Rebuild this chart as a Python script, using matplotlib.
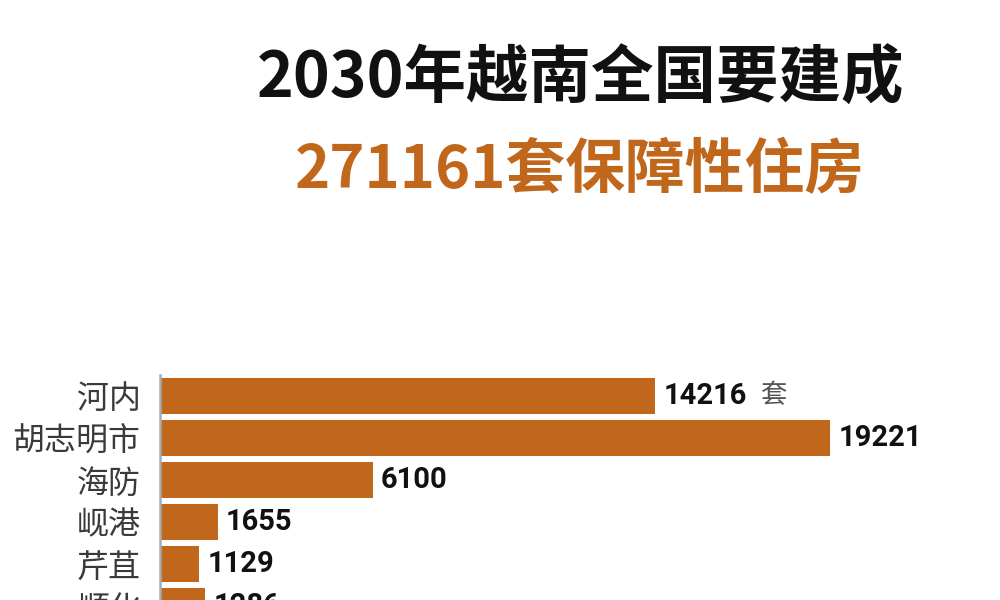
import matplotlib
matplotlib.use("Agg")
import matplotlib.pyplot as plt

# Data
cities = ["河内", "胡志明市", "海防", "岘港", "芹苴", "顺化"]
values = [14216, 19221, 6100, 1655, 1129, 1286]
unit = "套"
title1 = "2030年越南全国要建成"
title2 = "271161套保障性住房"

ORANGE = "#c1671c"

plt.rcParams['font.family'] = ['Noto Sans CJK SC', 'DejaVu Sans']

fig = plt.figure(figsize=(10, 6), dpi=100)
fig.patch.set_facecolor("white")

fig.text(0.581, 1 - 79 / 600, title1, ha="center", va="center",
         fontsize=45, fontweight="bold", color="#111111")
fig.text(0.580, 1 - 171 / 600, title2, ha="center", va="center",
         fontsize=43, fontweight="bold", color=ORANGE)

ax = fig.add_axes([0.16, 1 - 627 / 600, 0.697, 252 / 600])
ypos = list(range(len(cities)))
ax.barh(ypos, values, height=0.88, color=ORANGE)
ax.set_xlim(0, 20000)
ax.set_ylim(5.5, -0.5)

for s in ["top", "right", "bottom"]:
    ax.spines[s].set_visible(False)
ax.spines["left"].set_color("#a4acb4")
ax.spines["left"].set_linewidth(1.8)
ax.set_xticks([])
ax.set_yticks(ypos)
ax.set_yticklabels(cities, fontsize=23, color="#3a3a3a", style="italic")
ax.tick_params(axis="y", length=0, pad=14)

for i, v in enumerate(values):
    t = ax.annotate(f"{v}", xy=(v, i), xytext=(6, 0), textcoords="offset points",
                    va="center", ha="left", fontsize=21, fontweight="bold",
                    family=["Roboto", "DejaVu Sans"], color="#111111")
    if i == 0:
        ax.annotate(unit, xy=(1, 0.5), xycoords=t, xytext=(10, 0),
                    textcoords="offset points", va="center", ha="left",
                    fontsize=19, color="#555555")

fig.savefig("out.png", dpi=100)
